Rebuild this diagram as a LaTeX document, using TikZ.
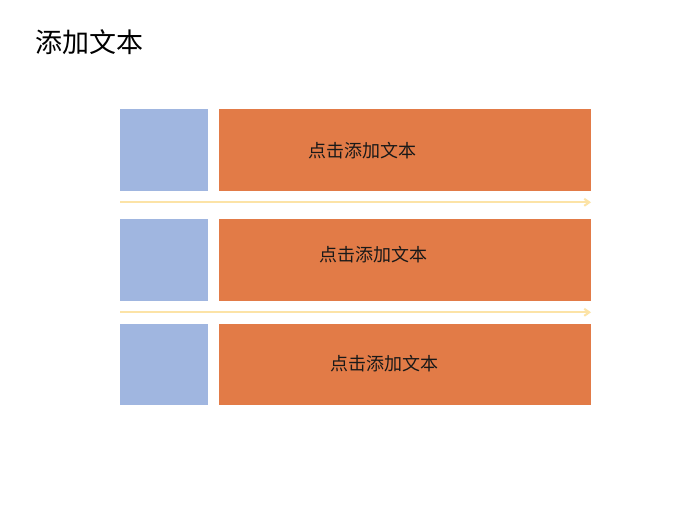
\documentclass[tikz,border=0pt]{standalone}
\usepackage{fontspec}
\setmainfont{Noto Sans CJK SC}
\usetikzlibrary{arrows.meta}
\definecolor{bluebox}{HTML}{A0B6E0}
\definecolor{orangebox}{HTML}{E27B47}
\definecolor{arrowyel}{HTML}{FCE3A6}
\begin{document}
\begin{tikzpicture}[x=1pt,y=-1pt,
  bluesq/.style={fill=bluebox,draw=none,inner sep=0pt,minimum width=88pt,minimum height=81.5pt,anchor=north west},
  orangebar/.style={fill=orangebox,draw=none,inner sep=0pt,minimum width=372pt,minimum height=81.5pt,anchor=north west},
  barlabel/.style={font=\fontsize{18}{21}\selectfont,text=black!90},
  flow/.style={draw=arrowyel,line width=2pt,-{Straight Barb[length=5pt,width=7pt]}}]
\fill[white] (0,0) rectangle (700,525);
\useasboundingbox (0,0) rectangle (700,525);
\node[anchor=west,font=\fontsize{27}{31}\selectfont] (title) at (31.5,42) {添加文本};
\node[bluesq] (b1) at (120,109) {};
\node[orangebar] (o1) at (219,109) {};
\node[bluesq] (b2) at (120,219) {};
\node[orangebar] (o2) at (219,219) {};
\node[bluesq] (b3) at (120,323.5) {};
\node[orangebar] (o3) at (219,323.5) {};
\node[barlabel] (t1) at (362,151) {点击添加文本};
\node[barlabel] (t2) at (373,255) {点击添加文本};
\node[barlabel] (t3) at (384,364) {点击添加文本};
\coordinate (a1s) at (120,202.3);
\coordinate (a1e) at (591,202.3);
\coordinate (a2s) at (120,312.3);
\coordinate (a2e) at (591,312.3);
\draw[flow] (a1s) -- (a1e);
\draw[flow] (a2s) -- (a2e);
\end{tikzpicture}
\end{document}
